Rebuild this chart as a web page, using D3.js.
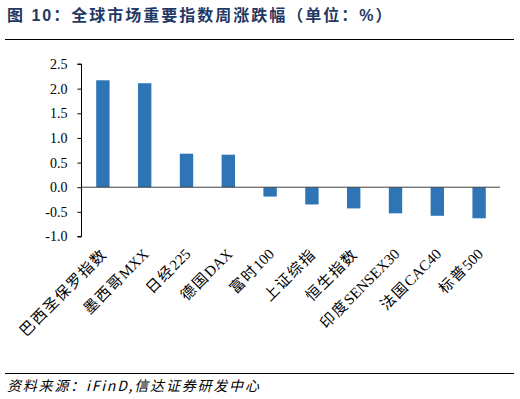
<!DOCTYPE html>
<html><head><meta charset="utf-8">
<script src="https://cdn.jsdelivr.net/npm/d3@7"></script>
<style>body{margin:0;background:#fff}svg{display:block}</style>
</head><body>
<script>
const categories = ["巴西圣保罗指数","墨西哥MXX","日经225","德国DAX","富时100","上证综指","恒生指数","印度SENSEX30","法国CAC40","标普500"];
const values = [2.17, 2.11, 0.68, 0.66, -0.19, -0.35, -0.43, -0.53, -0.58, -0.63];
const yTicks = [2.5, 2.0, 1.5, 1.0, 0.5, 0.0, -0.5, -1.0];

const W = 520, H = 399;
const svg = d3.select("body").append("svg").attr("width", W).attr("height", H);
const serif = "'Liberation Serif','Times New Roman','Noto Sans CJK SC',serif";

svg.append("text").attr("x", 7).attr("y", 21)
  .attr("font-family", "'Liberation Sans',Arial,'Noto Sans CJK SC',sans-serif")
  .attr("font-weight", "bold").attr("font-size", 16).attr("fill", "#1f3864")
  .attr("letter-spacing", 2)
  .text("图 10：全球市场重要指数周涨跌幅（单位：%）");
svg.append("line").attr("x1", 5).attr("x2", 514).attr("y1", 39.5).attr("y2", 39.5)
  .attr("stroke", "#000").attr("stroke-width", 1.2);
svg.append("line").attr("x1", 5).attr("x2", 514).attr("y1", 373.5).attr("y2", 373.5)
  .attr("stroke", "#000").attr("stroke-width", 1.2);
svg.append("text").attr("x", 7).attr("y", 391)
  .attr("font-family", "'Noto Sans CJK SC',sans-serif").attr("font-style", "italic")
  .attr("font-size", 14).attr("fill", "#000").attr("letter-spacing", 1.8)
  .text("资料来源：iFinD,信达证券研发中心");

const x = d3.scaleBand().domain(categories).range([82, 500]).paddingInner(0.68).paddingOuter(0.34);
const y = d3.scaleLinear().domain([-1, 2.5]).range([236.5, 64]);

const yAxis = svg.append("g").attr("transform", "translate(81.5,0)")
  .call(d3.axisLeft(y).tickValues(yTicks).tickSize(4).tickPadding(10).tickFormat(d3.format(".1f")));
yAxis.select(".domain").attr("stroke", "#000").attr("d", `M-4,${y(2.5)}H0V${y(-1)}H-4`);
yAxis.selectAll(".tick line").attr("stroke", "#000");
yAxis.selectAll(".tick text").attr("font-family", serif).attr("font-size", 14).attr("fill", "#000")
  .text(d => d < 0 ? "-" + d3.format(".1f")(-d) : d3.format(".1f")(d));

svg.append("g").selectAll("rect").data(values).join("rect")
  .attr("x", (d, i) => x(categories[i]))
  .attr("width", x.bandwidth())
  .attr("y", d => y(Math.max(0, d)))
  .attr("height", d => Math.abs(y(d) - y(0)))
  .attr("fill", "#2e75b6");

svg.append("line").attr("x1", 81.5).attr("x2", 500).attr("y1", y(0)).attr("y2", y(0))
  .attr("stroke", "#404040").attr("stroke-width", 1);

const labels = svg.append("g").selectAll("text").data(categories).join("text")
  .attr("font-family", serif).attr("font-size", 15).attr("fill", "#000")
  .attr("text-anchor", "end")
  .attr("transform", d => `translate(${x(d) + x.bandwidth() / 2 + 5},${255}) rotate(-45)`);
labels.each(function(d) {
  const runs = d.match(/[\u4e00-\u9fff]+|[^\u4e00-\u9fff]+/g);
  const t = d3.select(this);
  runs.forEach(r => {
    const cjk = /[\u4e00-\u9fff]/.test(r);
    t.append("tspan").attr("letter-spacing", cjk ? 1.6 : 0).text(r);
  });
});
</script>
</body></html>
